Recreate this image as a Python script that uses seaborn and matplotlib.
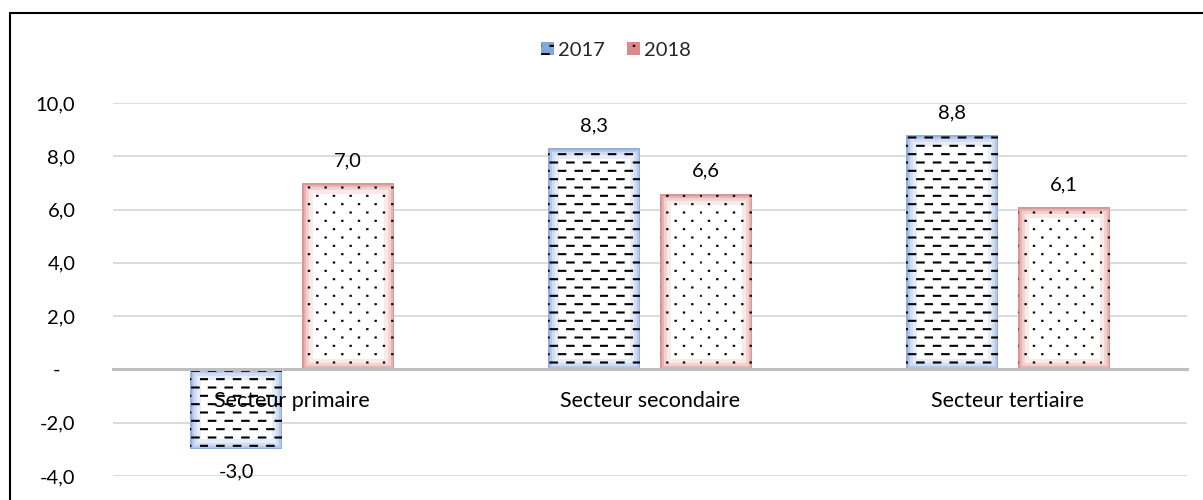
import numpy as np
import pandas as pd
import matplotlib
matplotlib.use("Agg")
import matplotlib.pyplot as plt
import matplotlib.hatch as mhatch
import matplotlib.ticker as mticker
import matplotlib.patheffects as pe
import matplotlib.transforms as mtransforms
from matplotlib.path import Path
from matplotlib.patches import Patch
from matplotlib.lines import Line2D
from matplotlib.legend_handler import HandlerTuple
import seaborn as sns

# ---------------- data ----------------
categories = ["Secteur primaire", "Secteur secondaire", "Secteur tertiaire"]
years = ["2017", "2018"]
values_2017 = [-3.0, 8.3, 8.8]
values_2018 = [7.0, 6.6, 6.1]
y_ticks = [-4, -2, 0, 2, 4, 6, 8, 10]


# ---------------- custom hatches (staggered dashes / dots) ----------------
class DashRows(mhatch.HatchPatternBase):
    char = "-"
    seg = 0.065

    def __init__(self, hatch, density):
        n = hatch.count(self.char)
        self.rows = int(n * density)
        self.cols = int(density) if n else 0
        self.num_vertices = self.rows * self.cols * 2

    def set_vertices_and_codes(self, vertices, codes):
        k = 0
        for i in range(self.rows):
            y = (i + 0.5) / self.rows
            off = 0.005 if i % 2 == 0 else 0.5 / self.cols + 0.005
            for j in range(self.cols):
                x0 = off + j / self.cols
                vertices[k] = (x0, y)
                vertices[k + 1] = (x0 + self.seg, y)
                codes[k] = Path.MOVETO
                codes[k + 1] = Path.LINETO
                k += 2


class DotRows(DashRows):
    char = "."
    seg = 0.003


mhatch._hatch_types = [DashRows if t is mhatch.HorizontalHatch else
                       (DotRows if t is mhatch.SmallFilledCircles else t)
                       for t in mhatch._hatch_types]

# ---------------- style ----------------
sns.set_theme(style="white")
plt.rcParams["font.family"] = ["Lato", "DejaVu Sans"]
plt.rcParams["hatch.linewidth"] = 1.5
FS_NUM = 14.5
FS_CAT = 15.5

df = pd.DataFrame({
    "Secteur": categories * 2,
    "Annee": [years[0]] * len(categories) + [years[1]] * len(categories),
    "Valeur": values_2017 + values_2018,
})

fig, ax = plt.subplots(figsize=(12.03, 5.0), dpi=100)
fig.subplots_adjust(left=0.0939, right=0.9867, bottom=0.048, top=0.794)

white_pal = {"2017": "#FFFFFF", "2018": "#FFFFFF"}
glow = [
    ["#E6EDF8", "#CFDCF1", "#B3C8EA", "#92AFDD"],   # 2017 (blue)
    ["#F9E9E9", "#F1D0D0", "#E7B3B3", "#DB9696"],   # 2018 (red)
]
hatches = ["--", ".."]

common = dict(data=df, x="Secteur", y="Valeur", hue="Annee", order=categories,
              hue_order=years, width=0.625, gap=0.178, errorbar=None,
              legend=False, palette=white_pal, ax=ax)

# layer 1: white fill
sns.barplot(**common)
n0 = len(ax.containers)
for cont in ax.containers[:n0]:
    for bar in cont:
        bar.set_linewidth(0)
        bar.set_zorder(2)

# layer 2: soft inner glow along the border
sns.barplot(**common)
n1 = len(ax.containers)
for cont, cols in zip(ax.containers[n0:n1], glow):
    for bar in cont:
        bar.set_facecolor("none")
        bar.set_edgecolor(cols[-1])
        bar.set_linewidth(0)
        bar.set_zorder(2.5)
        bar.set_clip_path(bar)
        bar.set_path_effects([
            pe.Stroke(linewidth=15, foreground=cols[0]),
            pe.Stroke(linewidth=9, foreground=cols[1]),
            pe.Stroke(linewidth=5, foreground=cols[2]),
            pe.Stroke(linewidth=2.2, foreground=cols[3]),
        ])

# layer 3: hatch pattern
sns.barplot(**common)
for cont, h in zip(ax.containers[n1:], hatches):
    for bar in cont:
        bar.set_facecolor("none")
        bar.set_edgecolor("black")
        bar.set_linewidth(0)
        bar.set_hatch(h)
        bar.set_zorder(3)


def fmt(v):
    return f"{v:.1f}".replace(".", ",")


for cont, vals in zip(ax.containers[n1:], [values_2017, values_2018]):
    ax.bar_label(cont, labels=[fmt(v) for v in vals], padding=10,
                 fontsize=FS_NUM, color="#000000")

# axes
ax.set_ylim(-4, 10)
ax.set_yticks(y_ticks)
ax.yaxis.set_major_formatter(mticker.FuncFormatter(
    lambda v, p: "-   " if abs(v) < 1e-9 else fmt(v)))
ax.grid(axis="y", color="#D9D9D9", linewidth=1.3)
ax.grid(axis="x", visible=False)
ax.set_axisbelow(True)
for s in ["top", "right", "left"]:
    ax.spines[s].set_visible(False)
ax.spines["bottom"].set_position(("data", 0))
ax.spines["bottom"].set_color("#BFBFBF")
ax.spines["bottom"].set_linewidth(2.2)
ax.spines["bottom"].set_zorder(4)
ax.tick_params(axis="x", length=0, labelbottom=False)
ax.tick_params(axis="y", length=0, pad=27, labelsize=FS_NUM, colors="#000000")
ax.set_xlabel("")
ax.set_ylabel("")

# category labels drawn over the bars, just below the zero line
lab_tr = mtransforms.offset_copy(ax.transData, fig=fig, x=0, y=-32, units="dots")
for i, cat in enumerate(categories):
    ax.text(i, 0, cat, transform=lab_tr, ha="center", va="center",
            fontsize=FS_CAT, color="#000000", zorder=6)

# legend
legend_faces = ["#86A6D9", "#D98A8B"]
handles = [(Patch(facecolor=c, edgecolor="none"),
            Patch(facecolor="none", edgecolor="black", linewidth=0, hatch=h))
           for c, h in zip(legend_faces, hatches)]
fig.legend(handles, years, handler_map={tuple: HandlerTuple(ndivide=1)},
           loc="center", bbox_to_anchor=(0.512, 0.9), ncol=2, frameon=False,
           handlelength=0.65, handleheight=0.65, handletextpad=0.2,
           columnspacing=1.1, fontsize=FS_NUM)

# outer frame (left and top edges)
fig.add_artist(Line2D([0.0087, 0.0087], [0.0, 0.974], transform=fig.transFigure,
                      color="black", linewidth=1.5))
fig.add_artist(Line2D([0.0087, 1.0], [0.974, 0.974], transform=fig.transFigure,
                      color="black", linewidth=1.5))

fig.savefig("out.png", dpi=100, facecolor="white")
